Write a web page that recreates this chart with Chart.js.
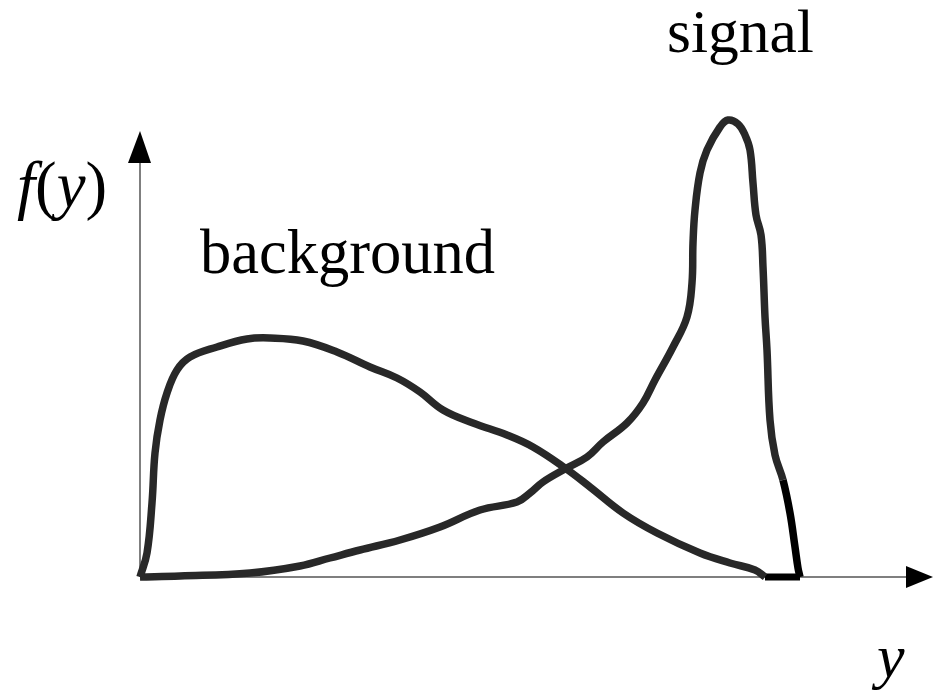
<!DOCTYPE html>
<html>
<head>
<meta charset="utf-8">
<script src="https://cdn.jsdelivr.net/npm/chart.js@4/dist/chart.umd.min.js"></script>
<style>
  html, body { margin: 0; padding: 0; background: #fff; }
  #wrap { width: 933px; height: 690px; }
</style>
</head>
<body>
<div id="wrap"><canvas id="c" width="933" height="690"></canvas></div>
<script>
// Background distribution f(y)
const backgroundX = [0, 7, 12, 15, 20, 27, 37, 50, 77, 107, 130, 163, 197, 230, 257, 280, 303, 333, 367, 393, 425, 450, 483, 517, 560, 590, 615, 625];
const backgroundY = [0, 24, 74, 124, 157, 184, 207, 220, 230, 238, 239, 236, 225, 210, 199, 185, 167, 154, 142, 130, 109, 90, 64, 44, 24, 14, 7, 0];

// Signal distribution f(y)
const signalX = [0, 40, 110, 160, 190, 220, 260, 300, 340, 377, 390, 403, 425, 447, 463, 487, 503, 515, 533, 547, 552, 553, 555, 560, 567, 580, 588, 598, 605, 610, 613, 616, 621, 623, 625, 627, 630, 635, 643, 650, 655, 658, 660];
const signalY = [0, 1, 4, 11, 19, 27, 37, 50, 67, 75, 84, 95, 108, 120, 135, 154, 174, 197, 230, 260, 294, 334, 367, 404, 427, 450, 457, 453, 442, 427, 394, 362, 342, 310, 260, 227, 157, 122, 97, 64, 30, 9, 0];

// Flat tail along the axis between the two curve ends
const tailX = [625, 660];
const tailY = [0, 0];

// Axis ranges
const xRange = [0, 793];
const yRange = [0, 446];

// Labels
const labelSignal = 'signal';
const labelBackground = 'background';
const axisLabelX = 'y';

const toPts = (xs, ys) => xs.map((x, i) => ({ x, y: ys[i] }));

const axesPlugin = {
  id: 'axesArrows',
  beforeDatasetsDraw(chart) {
    const { ctx, scales } = chart;
    const x0 = scales.x.getPixelForValue(xRange[0]);
    const y0 = scales.y.getPixelForValue(yRange[0]);
    const xEnd = scales.x.getPixelForValue(xRange[1]);
    const yEnd = scales.y.getPixelForValue(yRange[1]);
    ctx.save();
    ctx.strokeStyle = '#555';
    ctx.lineWidth = 1.5;
    ctx.beginPath();
    ctx.moveTo(x0, y0);
    ctx.lineTo(x0, yEnd + 32);
    ctx.moveTo(x0, y0);
    ctx.lineTo(xEnd - 27, y0);
    ctx.stroke();
    ctx.fillStyle = '#000';
    ctx.beginPath();
    ctx.moveTo(x0, yEnd);
    ctx.lineTo(x0 - 12, yEnd + 32);
    ctx.lineTo(x0 + 11, yEnd + 32);
    ctx.closePath();
    ctx.fill();
    ctx.beginPath();
    ctx.moveTo(xEnd, y0);
    ctx.lineTo(xEnd - 27, y0 - 11);
    ctx.lineTo(xEnd - 27, y0 + 11);
    ctx.closePath();
    ctx.fill();
    ctx.restore();
  },
  afterDraw(chart) {
    const { ctx } = chart;
    ctx.save();
    ctx.fillStyle = '#000';
    ctx.textBaseline = 'alphabetic';
    ctx.textAlign = 'left';
    const fam = '"Liberation Serif", "Times New Roman", serif';
    ctx.font = '61.5px ' + fam;
    ctx.fillText(labelSignal, 667, 52);
    ctx.font = '62.5px ' + fam;
    ctx.fillText(labelBackground, 200, 273);
    // f(y)
    let x = 17;
    const base = 207;
    const reg = '65px ' + fam;
    const ita = 'italic 65px ' + fam;
    const parts = [['f', ita], ['(', reg], ['y', ita], [')', reg]];
    parts.forEach(([t, f]) => {
      ctx.font = f;
      ctx.fillText(t, x, base);
      x += ctx.measureText(t).width;
    });
    ctx.font = 'italic 62px ' + fam;
    ctx.fillText(axisLabelX, 877, 677);
    ctx.restore();
  }
};

const lineColor = '#282828';

new Chart(document.getElementById('c'), {
  type: 'line',
  data: {
    datasets: [
      {
        label: 'background',
        data: toPts(backgroundX, backgroundY),
        borderColor: lineColor,
        borderWidth: 7.5,
        pointRadius: 0,
        tension: 0.4,
        fill: false,
        clip: false
      },
      {
        label: 'signal',
        data: toPts(signalX, signalY),
        borderColor: lineColor,
        borderWidth: 7.5,
        pointRadius: 0,
        tension: 0.4,
        fill: false,
        clip: false,
        segment: {
          borderColor: c => (c.p0.parsed.x >= 640 ? '#000' : undefined)
        }
      },
      {
        label: 'tail',
        data: toPts(tailX, tailY),
        borderColor: '#000',
        borderWidth: 7,
        pointRadius: 0,
        tension: 0,
        fill: false,
        clip: false
      }
    ]
  },
  options: {
    responsive: false,
    animation: false,
    layout: { padding: { left: 140, right: 0, top: 131, bottom: 113 } },
    plugins: { legend: { display: false }, tooltip: { enabled: false } },
    scales: {
      x: { type: 'linear', min: xRange[0], max: xRange[1], display: false },
      y: { type: 'linear', min: yRange[0], max: yRange[1], display: false }
    }
  },
  plugins: [axesPlugin]
});
</script>
</body>
</html>
